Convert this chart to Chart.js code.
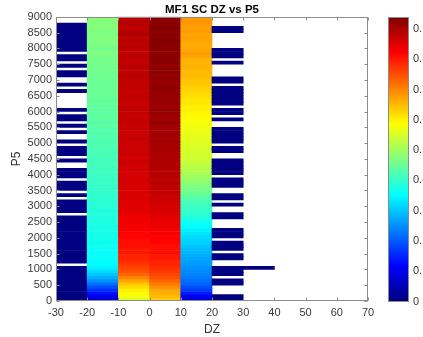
<!DOCTYPE html>
<html><head><meta charset="utf-8">
<script src="https://cdn.jsdelivr.net/npm/chart.js@4/dist/chart.umd.min.js"></script>
<style>
html,body{margin:0;padding:0;background:#fff;width:423px;height:337px;overflow:hidden}
#main{position:absolute;left:0;top:0}
#cbar{position:absolute;left:380px;top:0}
</style></head><body>
<canvas id="main" width="380" height="337"></canvas>
<canvas id="cbar" width="43" height="337"></canvas>
<script>
const N = null;
const titleText = 'MF1 SC DZ vs P5';
const xLabel = 'DZ';
const yLabel = 'P5';
// DZ bin centres (bins are 10 wide)
const dzCenters = [-25, -15, -5, 5, 15, 25, 35];
// P5 bin size (rows start at 0, bottom to top)
const p5BinSize = 100;
const xTicks = [-30, -20, -10, 0, 10, 20, 30, 40, 50, 60, 70];
const yTicks = [0, 500, 1000, 1500, 2000, 2500, 3000, 3500, 4000, 4500, 5000, 5500, 6000, 6500, 7000, 7500, 8000, 8500, 9000];
const cbTicks = [0, 0.1, 0.2, 0.3, 0.4, 0.5, 0.6, 0.7, 0.8, 0.9];
const colorMax = 0.94;

// column DZ -30..-20
const colM30 = [
 0,0,0,0,0,0,0,0,0,0,
 0,N,0,0,0,0,0,0,0,0,
 0,0,0,0,0,0,0,N,0,0,
 0,0,N,0,N,0,0,0,N,0,
 0,0,N,N,0,N,0,0,0,N,
 0,N,N,0,N,0,N,0,0,N,
 0,N,N,N,N,N,0,N,0,N,
 N,0,0,N,0,N,0,0,N,0,
 0,0,0,0,0,0,0,0,N,N];
// column DZ -20..-10
const colM20 = [
 0.07,0.10,0.13,0.16,0.19,0.22,0.25,0.28,0.30,0.32,
 0.34,0.35,0.35,0.36,0.36,0.36,0.36,0.37,0.36,0.37,
 0.37,0.37,0.38,0.37,0.38,0.38,0.38,0.39,0.38,0.39,
 0.39,0.39,0.40,0.39,0.40,0.40,0.40,0.41,0.40,0.41,
 0.41,0.41,0.41,0.42,0.41,0.42,0.42,0.42,0.42,0.43,
 0.42,0.43,0.43,0.43,0.43,0.44,0.43,0.44,0.44,0.44,
 0.44,0.44,0.45,0.44,0.45,0.45,0.45,0.45,0.45,0.45,
 0.45,0.46,0.45,0.46,0.46,0.46,0.46,0.46,0.47,0.46,
 0.46,0.47,0.47,0.47,0.47,0.47,0.47,0.48,0.47,0.48];
// column DZ -10..0
const colM10 = [
 0.55,0.58,0.59,0.60,0.62,0.64,0.67,0.70,0.73,0.75,
 0.76,0.77,0.78,0.79,0.79,0.80,0.80,0.81,0.81,0.81,
 0.82,0.82,0.83,0.83,0.83,0.84,0.84,0.84,0.85,0.85,
 0.85,0.85,0.86,0.85,0.86,0.86,0.86,0.86,0.87,0.86,
 0.86,0.87,0.86,0.87,0.87,0.86,0.87,0.87,0.87,0.87,
 0.87,0.88,0.87,0.87,0.88,0.87,0.88,0.88,0.87,0.88,
 0.88,0.88,0.87,0.88,0.88,0.88,0.87,0.88,0.88,0.88,
 0.88,0.89,0.88,0.88,0.89,0.88,0.88,0.89,0.88,0.88,
 0.89,0.88,0.89,0.88,0.90,0.89,0.88,0.89,0.89,0.88];
// column DZ 0..10
const col0 = [
 0.63,0.65,0.66,0.67,0.69,0.71,0.73,0.75,0.76,0.77,
 0.78,0.79,0.79,0.80,0.80,0.81,0.81,0.81,0.82,0.82,
 0.82,0.83,0.83,0.84,0.84,0.84,0.85,0.85,0.86,0.86,
 0.86,0.87,0.87,0.87,0.88,0.88,0.88,0.89,0.88,0.89,
 0.89,0.89,0.90,0.89,0.90,0.90,0.90,0.90,0.91,0.90,
 0.91,0.90,0.91,0.91,0.91,0.91,0.92,0.91,0.91,0.92,
 0.92,0.91,0.92,0.92,0.92,0.92,0.92,0.93,0.92,0.92,
 0.93,0.92,0.93,0.93,0.92,0.93,0.93,0.93,0.93,0.93,
 0.93,0.93,0.94,0.93,0.93,0.93,0.94,0.93,0.93,0.93];
// column DZ 10..20
const colP10 = [
 0.08,0.11,0.14,0.17,0.19,0.21,0.22,0.23,0.24,0.245,
 0.25,0.26,0.265,0.27,0.28,0.285,0.29,0.30,0.31,0.315,
 0.32,0.33,0.34,0.35,0.36,0.37,0.385,0.39,0.40,0.405,
 0.41,0.42,0.43,0.44,0.455,0.46,0.47,0.48,0.49,0.50,
 0.51,0.52,0.52,0.53,0.54,0.545,0.545,0.55,0.55,0.555,
 0.56,0.56,0.565,0.57,0.57,0.575,0.58,0.585,0.59,0.595,
 0.60,0.60,0.61,0.61,0.615,0.62,0.625,0.63,0.635,0.64,
 0.645,0.65,0.65,0.655,0.66,0.655,0.66,0.67,0.68,0.67,
 0.665,0.665,0.67,0.675,0.67,0.68,0.675,0.68,0.685,0.68];
// column DZ 20..30
const colP20 = [
 0,0,N,N,N,0,0,N,0,0,
 0,N,N,0,0,N,0,0,0,N,
 0,0,0,N,N,N,0,0,N,N,
 0,N,0,0,N,N,0,0,0,N,
 0,0,0,0,0,N,N,0,0,N,
 0,0,0,0,0,N,N,0,N,0,
 0,N,0,0,0,0,0,0,N,0,
 0,N,N,N,N,0,N,0,0,0,
 N,N,N,N,N,0,0,N,N,N];
// column DZ 30..40
const colP30 = [
 N,N,N,N,N,N,N,N,N,N,
 0,N,N,N,N,N,N,N,N,N,
 N,N,N,N,N,N,N,N,N,N,
 N,N,N,N,N,N,N,N,N,N,
 N,N,N,N,N,N,N,N,N,N,
 N,N,N,N,N,N,N,N,N,N,
 N,N,N,N,N,N,N,N,N,N,
 N,N,N,N,N,N,N,N,N,N,
 N,N,N,N,N,N,N,N,N,N];

const columns = [colM30, colM20, colM10, col0, colP10, colP20, colP30];

function jet(v) {
  const t = Math.max(0, Math.min(1, v / colorMax));
  const c = x => Math.round(255 * Math.max(0, Math.min(1, x)));
  const r = c(1.5 - Math.abs(4 * t - 3));
  const g = c(1.5 - Math.abs(4 * t - 2));
  const b = c(1.5 - Math.abs(4 * t - 1));
  return `rgb(${r},${g},${b})`;
}

const cells = [];
columns.forEach((col, ci) => {
  col.forEach((v, i) => {
    if (v === null) return;
    cells.push({ x: dzCenters[ci], y: [i * p5BinSize, (i + 1) * p5BinSize], v: v });
  });
});

Chart.defaults.font.family = "'Liberation Sans', Arial, sans-serif";
Chart.defaults.color = '#3a3a3a';

const boxPlugin = {
  id: 'box',
  afterDatasetsDraw(chart) {
    const { ctx, chartArea: a, scales: { x, y } } = chart;
    ctx.save();
    ctx.strokeStyle = '#8c8c8c';
    ctx.lineWidth = 1;
    const L = Math.round(a.left) + 0.5, R = Math.round(a.right) - 0.5;
    const T = Math.round(a.top) + 0.5, B = Math.round(a.bottom) - 0.5;
    ctx.strokeRect(L, T, R - L, B - T);
    ctx.beginPath();
    xTicks.forEach(v => {
      const px = Math.round(x.getPixelForValue(v)) + 0.5;
      ctx.moveTo(px, B); ctx.lineTo(px, B - 3);
      ctx.moveTo(px, T); ctx.lineTo(px, T + 3);
    });
    yTicks.forEach(v => {
      const py = Math.round(y.getPixelForValue(v)) + 0.5;
      ctx.moveTo(L, py); ctx.lineTo(L + 3, py);
      ctx.moveTo(R, py); ctx.lineTo(R - 3, py);
    });
    ctx.stroke();
    ctx.restore();
  }
};

new Chart(document.getElementById('main'), {
  type: 'bar',
  data: {
    datasets: [{
      data: cells,
      backgroundColor: ctx => (ctx.raw ? jet(ctx.raw.v) : '#000'),
      borderWidth: 0,
      barPercentage: 1,
      categoryPercentage: 1
    }]
  },
  options: {
    responsive: false,
    devicePixelRatio: 1,
    animation: false,
    events: [],
    layout: { padding: { left: 0, right: 12, top: 0, bottom: 0 } },
    plugins: {
      legend: { display: false },
      tooltip: { enabled: false },
      title: {
        display: true, text: titleText, color: '#000', fullSize: false,
        font: { size: 11.5, weight: 'bold' },
        padding: { top: 3, bottom: 0 }
      }
    },
    scales: {
      x: {
        type: 'linear', min: -30, max: 70, offset: false,
        grid: { display: false, drawTicks: false }, border: { display: false },
        afterBuildTicks: s => { s.ticks = xTicks.map(v => ({ value: v })); },
        afterFit: s => { s.height = 36; },
        ticks: { font: { size: 11 }, padding: 5, maxRotation: 0, autoSkip: false, callback: v => String(v) },
        title: { display: true, text: xLabel, font: { size: 12 }, color: '#333', padding: { top: 0, bottom: 0 } }
      },
      y: {
        type: 'linear', min: 0, max: 9000,
        grid: { display: false, drawTicks: false }, border: { display: false },
        afterBuildTicks: s => { s.ticks = yTicks.map(v => ({ value: v })); },
        afterFit: s => { s.width = 56; },
        ticks: { font: { size: 11 }, padding: 4, autoSkip: false, callback: v => String(v) },
        title: { display: true, text: yLabel, font: { size: 12 }, color: '#333', padding: { top: 9, bottom: 0 } }
      }
    }
  },
  plugins: [boxPlugin]
});

const cbBorder = {
  id: 'cbBorder',
  afterDatasetsDraw(chart) {
    const { ctx, chartArea: a } = chart;
    ctx.save();
    ctx.strokeStyle = '#8c8c8c';
    ctx.lineWidth = 1;
    const L = Math.round(a.left) + 0.5, R = Math.round(a.right) - 0.5;
    const T = Math.round(a.top) + 0.5, B = Math.round(a.bottom) - 0.5;
    ctx.strokeRect(L, T, R - L, B - T);
    ctx.restore();
  }
};

new Chart(document.getElementById('cbar'), {
  type: 'bar',
  data: {
    labels: [''],
    datasets: [{
      data: [[0, colorMax]],
      backgroundColor: ctx => {
        const ch = ctx.chart;
        if (!ch.chartArea) return '#000';
        const y0 = ch.scales.y.getPixelForValue(0);
        const y1 = ch.scales.y.getPixelForValue(colorMax);
        const g = ch.ctx.createLinearGradient(0, y0, 0, y1);
        [0, 0.125, 0.375, 0.625, 0.875, 1].forEach(t => g.addColorStop(t, jet(t * colorMax)));
        return g;
      },
      borderWidth: 0,
      barPercentage: 1,
      categoryPercentage: 1
    }]
  },
  options: {
    responsive: false,
    devicePixelRatio: 1,
    animation: false,
    events: [],
    layout: { padding: { left: 8, right: 0, top: 17, bottom: 35.5 } },
    plugins: { legend: { display: false }, tooltip: { enabled: false }, title: { display: false } },
    scales: {
      x: { display: false },
      y: {
        position: 'right', min: 0, max: colorMax,
        grid: { display: false, drawTicks: false }, border: { display: false },
        afterBuildTicks: s => { s.ticks = cbTicks.map(v => ({ value: v })); },
        afterFit: s => { s.width = 14; },
        ticks: { font: { size: 11 }, padding: 4, autoSkip: false, callback: v => String(Number(v.toFixed(1))) }
      }
    }
  },
  plugins: [cbBorder]
});
</script>
</body></html>
